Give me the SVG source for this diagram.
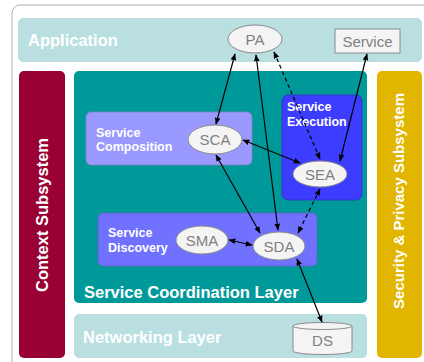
<svg xmlns="http://www.w3.org/2000/svg" width="424" height="362" viewBox="0 0 424 362">
  <style>
    .band { stroke: none; }
    .lbl { font-family: "Liberation Sans", Arial, sans-serif; font-weight: bold; fill: #ffffff; }
    .big { font-size: 16.5px; }
    .side { font-size: 15px; }
    .mid { font-size: 12.5px; }
    .node { fill: #f4f4f4; stroke: #8a8a8a; stroke-width: 1; }
    .ntxt { font-family: "Liberation Sans", Arial, sans-serif; font-size: 15px; fill: #808080; text-anchor: middle; }
    .conn { stroke: #000000; stroke-width: 1.2; fill: none; marker-start: url(#ah); marker-end: url(#ah); }
    .dash { stroke-dasharray: 4 3; }
  </style>
  <defs>
    <marker id="ah" viewBox="0 0 10 10" refX="9" refY="5" markerWidth="7" markerHeight="7" orient="auto-start-reverse" markerUnits="userSpaceOnUse">
      <path d="M0,1 L10,5 L0,9 Z" fill="#000000"/>
    </marker>
  </defs>

  <rect width="424" height="362" fill="#ffffff"/>
  <!-- outer frame -->
  <rect x="12" y="5" width="420" height="370" rx="8" fill="#ffffff" stroke="#b0b0b0" stroke-width="1"/>

  <!-- layers -->
  <g id="application">
    <rect class="band" x="18" y="18" width="404" height="44" rx="5" fill="#b9dfe1"/>
    <text class="lbl big" x="28" y="45.5">Application</text>
  </g>
  <g id="context-subsystem">
    <rect class="band" x="19" y="71" width="46" height="287" rx="5" fill="#990033"/>
    <text class="lbl big" x="0" y="0" text-anchor="middle" transform="translate(48,215) rotate(-90)">Context Subsystem</text>
  </g>
  <g id="security-privacy-subsystem">
    <rect class="band" x="377" y="71" width="45" height="287" rx="5" fill="#e2b600"/>
    <text class="lbl side" x="0" y="0" text-anchor="middle" transform="translate(404,201) rotate(-90)">Security &amp; Privacy Subsystem</text>
  </g>
  <g id="service-coordination-layer">
    <rect class="band" x="74" y="71" width="293" height="232" rx="5" fill="#009999"/>
    <text class="lbl big" x="84" y="297.5">Service Coordination Layer</text>
  </g>
  <g id="networking-layer">
    <rect class="band" x="74" y="314" width="293" height="44" rx="5" fill="#b9dfe1"/>
    <text class="lbl big" x="83" y="342.5">Networking Layer</text>
  </g>

  <!-- component boxes -->
  <g id="service-composition">
    <rect x="86" y="112" width="166" height="53" rx="5" fill="#9999ff" stroke="#8080c0" stroke-width="0.8"/>
    <text class="lbl mid" x="96" y="136.5">Service</text>
    <text class="lbl mid" x="96" y="151">Composition</text>
  </g>
  <g id="service-execution">
    <rect x="282" y="95" width="80" height="105" rx="6" fill="#3d3dff" stroke="#3030c0" stroke-width="0.8"/>
    <text class="lbl mid" x="287" y="111">Service</text>
    <text class="lbl mid" x="287" y="126">Execution</text>
  </g>
  <g id="service-discovery">
    <rect x="98" y="213" width="219" height="53" rx="5" fill="#7171ff" stroke="#6060c0" stroke-width="0.8"/>
    <text class="lbl mid" x="108" y="237">Service</text>
    <text class="lbl mid" x="108" y="252">Discovery</text>
  </g>

  <!-- agents -->
  <g id="PA">
    <ellipse class="node" cx="255" cy="39" rx="27" ry="14"/>
    <text class="ntxt" x="255" y="44.5">PA</text>
  </g>
  <g id="Service">
    <rect x="335" y="29" width="65" height="24" fill="#f4f4f4" stroke="#8a8a8a" stroke-width="1"/>
    <text class="ntxt" x="367.5" y="47">Service</text>
  </g>
  <g id="SCA">
    <ellipse class="node" cx="215" cy="139.5" rx="27" ry="14.5"/>
    <text class="ntxt" x="215" y="145">SCA</text>
  </g>
  <g id="SEA">
    <ellipse class="node" cx="320" cy="174" rx="27" ry="13"/>
    <text class="ntxt" x="320" y="179.5">SEA</text>
  </g>
  <g id="SMA">
    <ellipse class="node" cx="202" cy="240" rx="26" ry="14"/>
    <text class="ntxt" x="202" y="245.5">SMA</text>
  </g>
  <g id="SDA">
    <ellipse class="node" cx="279" cy="246" rx="26" ry="14"/>
    <text class="ntxt" x="279" y="251.5">SDA</text>
  </g>
  <g id="DS">
    <path d="M293,326 L293,351 A29.5,3.5 0 0 0 352,351 L352,326" fill="#f4f4f4" stroke="#8a8a8a" stroke-width="1"/>
    <ellipse cx="322.5" cy="326" rx="29.5" ry="3.5" fill="#f4f4f4" stroke="#8a8a8a" stroke-width="1"/>
    <text class="ntxt" x="322.5" y="346">DS</text>
  </g>

  <!-- connectors -->
  <g id="connectors">
    <line class="conn" x1="235" y1="54" x2="216" y2="124"/>
    <line class="conn" x1="256" y1="55" x2="278" y2="230"/>
    <line class="conn dash" x1="274" y1="52" x2="320" y2="159"/>
    <line class="conn" x1="367" y1="54" x2="340" y2="161"/>
    <line class="conn" x1="243" y1="140" x2="300" y2="163"/>
    <line class="conn" x1="216" y1="155" x2="260" y2="233"/>
    <line class="conn dash" x1="320" y1="189" x2="298" y2="233"/>
    <line class="conn" x1="229" y1="240" x2="252" y2="245"/>
    <line class="conn" x1="297" y1="259" x2="322" y2="322"/>
  </g>
</svg>
